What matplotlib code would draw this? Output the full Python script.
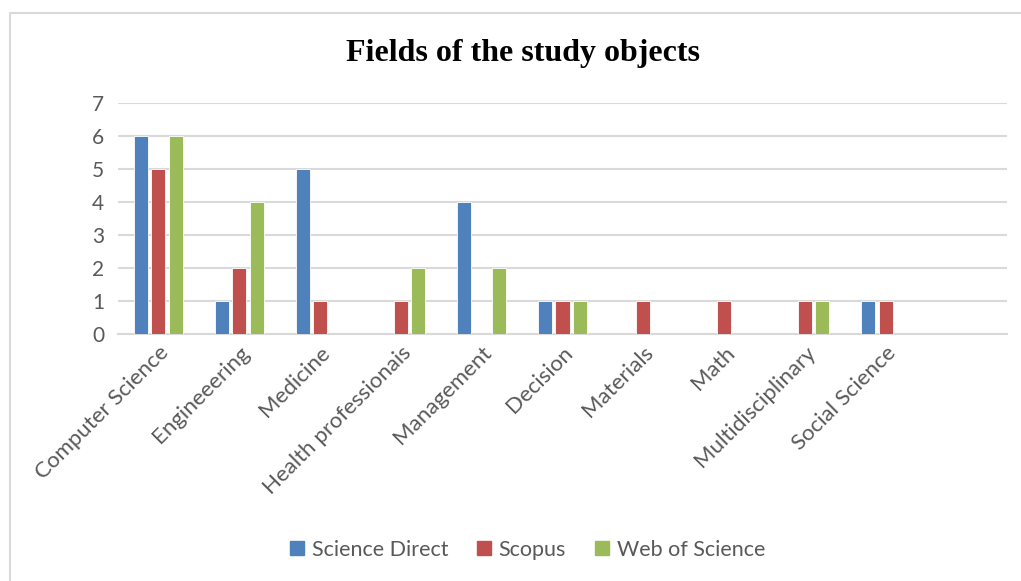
import matplotlib.pyplot as plt
import numpy as np
from matplotlib.lines import Line2D

# data
categories = ['Computer Science', 'Engineeering', 'Medicine', 'Health professionais',
              'Management', 'Decision', 'Materials', 'Math', 'Multidisciplinary',
              'Social Science', '']
science_direct = [6, 1, 5, 0, 4, 1, 0, 0, 0, 1, 0]
scopus = [5, 2, 1, 1, 0, 1, 1, 1, 1, 1, 0]
web_of_science = [6, 4, 0, 2, 2, 1, 0, 0, 1, 0, 0]
series_names = ['Science Direct', 'Scopus', 'Web of Science']
colors = ['#4F81BD', '#C0504D', '#9BBB59']

plt.rcParams['font.family'] = ['Lato', 'DejaVu Sans']

fig = plt.figure(figsize=(10.21, 5.81), dpi=100)
ax = fig.add_axes([118 / 1021, 247 / 581, 889 / 1021, 231 / 581])

x = np.arange(len(categories))
w = 0.175
step = 0.215
for i, (vals, name, c) in enumerate(zip([science_direct, scopus, web_of_science], series_names, colors)):
    ax.bar(x + (i - 1) * step, vals, width=w, color=c, edgecolor='white', linewidth=0.6, label=name, zorder=3)

ax.set_xlim(-0.5, len(categories) - 0.5)
ax.set_ylim(0, 7)
ax.set_yticks(range(8))
ax.yaxis.grid(True, color='#D9D9D9', linewidth=1.5, zorder=0)
for s in ['top', 'right', 'left']:
    ax.spines[s].set_visible(False)
ax.spines['bottom'].set_color('#D9D9D9')
ax.spines['bottom'].set_linewidth(1.5)
ax.tick_params(length=0, colors='#595959')
ax.tick_params(axis='y', labelsize=15, pad=10)
ax.set_xticks(x)
ax.set_xticklabels(categories, rotation=45, ha='right', rotation_mode='anchor', fontsize=16)
ax.tick_params(axis='x', pad=6)

fig.text(523 / 1021, 1 - 53 / 581, 'Fields of the study objects', ha='center', va='center',
         fontsize=23, fontweight='bold', family='Liberation Serif')

handles = [Line2D([], [], marker='s', linestyle='none', markersize=10, color=c) for c in colors]
fig.legend(handles, series_names, loc='center', bbox_to_anchor=(527 / 1021, 31 / 581), ncol=3, frameon=False,
           fontsize=15.5, handlelength=0.7, handletextpad=0.35, columnspacing=1.3, labelcolor='#595959')

# chart frame (only top and left edges are in view)
fig.add_artist(Line2D([10 / 1021, 10 / 1021, 1.0], [0, 1 - 13 / 581, 1 - 13 / 581],
                      transform=fig.transFigure, color='#D9D9D9', linewidth=1.5))

fig.savefig('out.png', dpi=100)
